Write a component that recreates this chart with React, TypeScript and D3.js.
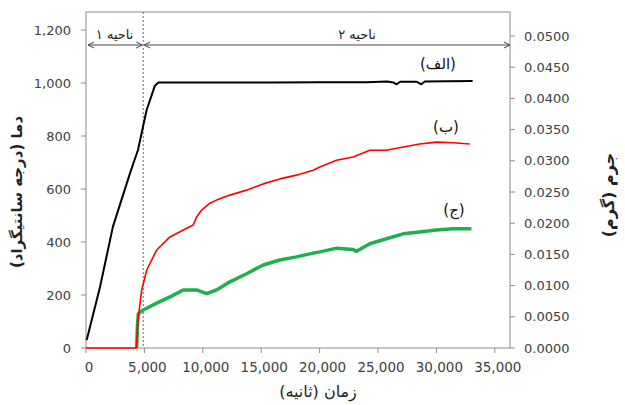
import React from "react";
import * as d3 from "d3";

// ---- data ----
const blackTime = [60, 1200, 2300, 3770, 4450, 5190, 5900, 6200, 8000, 12000, 16000, 20000, 24000, 25800, 26300, 26600, 26900, 28300, 28700, 29000, 31000, 33100];
const blackTemp = [30, 230, 457, 660, 747, 898, 990, 1002, 1002, 1002, 1002, 1003, 1003, 1006, 1002, 995, 1005, 1005, 995, 1006, 1007, 1008];

const redTime = [0, 4300, 4340, 4400, 4480, 4770, 5200, 6050, 7190, 8330, 9180, 9470, 9900, 10610, 11180, 12320, 13750, 15170, 16600, 18020, 19450, 20020, 21450, 22870, 24300, 25720, 27150, 28570, 30000, 31430, 32860];
const redMass = [0, 0, 0.0005, 0.003, 0.005, 0.0093, 0.0125, 0.0157, 0.0178, 0.0189, 0.0197, 0.021, 0.0221, 0.0232, 0.0237, 0.0245, 0.0253, 0.0263, 0.0271, 0.0277, 0.0285, 0.029, 0.0301, 0.0306, 0.0317, 0.0317, 0.0322, 0.0327, 0.033, 0.0329, 0.0327];

const greenTime = [4340, 4400, 4480, 4900, 6050, 7190, 8330, 9470, 10330, 11180, 12320, 13750, 15170, 16600, 18020, 19450, 20020, 21450, 22870, 23160, 24300, 25720, 27150, 28570, 30000, 31430, 33000];
const greenMass = [0, 0.0035, 0.0055, 0.0061, 0.0072, 0.0082, 0.0093, 0.0093, 0.0087, 0.0093, 0.0106, 0.0119, 0.0133, 0.0141, 0.0146, 0.0152, 0.0154, 0.016, 0.0158, 0.0155, 0.0167, 0.0175, 0.0183, 0.0186, 0.0189, 0.0191, 0.0191];

const xTicks = [0, 5000, 10000, 15000, 20000, 25000, 30000, 35000];
const leftTicks = [0, 200, 400, 600, 800, 1000, 1200];
const rightTicks = [0, 0.005, 0.01, 0.015, 0.02, 0.025, 0.03, 0.035, 0.04, 0.045, 0.05];
const zoneBoundary = 4900;
const zoneLabels = ["ناحیه ۱", "ناحیه ۲"];
const seriesLabels = ["(الف)", "(ب)", "(ج)"];
const xTitle = "زمان (ثانیه)";
const leftTitle = "دما (درجه سانتیگراد)";
const rightTitle = "جرم (گرم)";

const W = 625, H = 405;
const L = 86, R = 510, T = 12, B = 348;

export default function App() {
  const x = d3.scaleLinear().domain([0, 36300]).range([L, R]);
  const yL = d3.scaleLinear().domain([0, 1200]).range([B, 30]);
  const yR = d3.scaleLinear().domain([0, 0.05]).range([B, 36]);
  const fmt = d3.format(",");

  const lineL = d3.line<number>().x((_, i) => x(blackTime[i])).y((d) => yL(d));
  const lineRed = d3.line<number>().x((_, i) => x(redTime[i])).y((d) => yR(d));
  const lineGreen = d3.line<number>().x((_, i) => x(greenTime[i])).y((d) => yR(d));

  const axisColor = "#8c8c8c";
  const textColor = "#404040";
  const tickFont = "DejaVu Sans, Verdana, sans-serif";
  const faFont = "DejaVu Sans, Noto Sans, sans-serif";
  const xb = x(zoneBoundary);
  const arrowY = 45;

  const arrowHead = (px: number, dir: number) =>
    `M${px + dir * 6},${arrowY - 3} L${px},${arrowY} L${px + dir * 6},${arrowY + 3}`;

  return (
    <svg width={W} height={H} style={{ position: "absolute", left: 0, top: 0, background: "#fff" }}>
      <rect x={0} y={0} width={W} height={H} fill="#fff" />
      {/* frame */}
      <rect x={L} y={T} width={R - L} height={B - T} fill="none" stroke={axisColor} strokeWidth={1} />

      {/* left ticks */}
      {leftTicks.map((v) => (
        <g key={"l" + v}>
          <line x1={L - 5} x2={L} y1={yL(v)} y2={yL(v)} stroke={axisColor} />
          <text x={71} y={yL(v)} dy="0.35em" textAnchor="end" fontSize={13} fontFamily={tickFont} fill={textColor}>
            {fmt(v)}
          </text>
        </g>
      ))}
      {/* right ticks */}
      {rightTicks.map((v) => (
        <g key={"r" + v}>
          <line x1={R} x2={R + 5} y1={yR(v)} y2={yR(v)} stroke={axisColor} />
          <text x={524} y={yR(v)} dy="0.35em" textAnchor="start" fontSize={13} fontFamily={tickFont} fill={textColor}>
            {v.toFixed(4)}
          </text>
        </g>
      ))}
      {/* x ticks */}
      {xTicks.map((v) => (
        <g key={"x" + v}>
          <line x1={x(v)} x2={x(v)} y1={B} y2={B + 5} stroke={axisColor} />
          <text x={x(v) + 3} y={372} textAnchor="middle" fontSize={13.5} fontFamily={tickFont} fill={textColor}>
            {fmt(v)}
          </text>
        </g>
      ))}

      {/* zone boundary */}
      <line x1={xb} x2={xb} y1={T} y2={B} stroke="#666" strokeWidth={1} strokeDasharray="2,2" />
      {/* zone arrows */}
      <line x1={L + 2} x2={xb - 1} y1={arrowY} y2={arrowY} stroke="#444" strokeWidth={1} />
      <line x1={xb + 1} x2={R} y1={arrowY} y2={arrowY} stroke="#444" strokeWidth={1} />
      <path d={arrowHead(L + 2, 1)} fill="none" stroke="#444" />
      <path d={arrowHead(xb - 1, -1)} fill="none" stroke="#444" />
      <path d={arrowHead(xb + 1, 1)} fill="none" stroke="#444" />
      <path d={arrowHead(R, -1)} fill="none" stroke="#444" />
      <text x={(L + xb) / 2} y={39} textAnchor="middle" fontSize={13} fontFamily={faFont} fill="#222" direction="rtl">
        {zoneLabels[0]}
      </text>
      <text x={357} y={39} textAnchor="middle" fontSize={13} fontFamily={faFont} fill="#222" direction="rtl">
        {zoneLabels[1]}
      </text>

      {/* series */}
      <path d={lineGreen(greenMass) || ""} fill="none" stroke="#1fb04e" strokeWidth={3.5} strokeLinejoin="round" />
      <path d={lineRed(redMass) || ""} fill="none" stroke="#ff0000" strokeWidth={1.6} strokeLinejoin="round" />
      <path d={lineL(blackTemp) || ""} fill="none" stroke="#000" strokeWidth={2} strokeLinejoin="round" />

      {/* series labels */}
      <text x={438} y={69} textAnchor="middle" fontSize={15} fontFamily={faFont} fill="#111" direction="rtl">
        {seriesLabels[0]}
      </text>
      <text x={446} y={132} textAnchor="middle" fontSize={15} fontFamily={faFont} fill="#111" direction="rtl">
        {seriesLabels[1]}
      </text>
      <text x={454} y={215} textAnchor="middle" fontSize={15} fontFamily={faFont} fill="#111" direction="rtl">
        {seriesLabels[2]}
      </text>

      {/* axis titles */}
      <text x={318} y={397} textAnchor="middle" fontSize={16} fontFamily={faFont} fill="#222" direction="rtl">
        {xTitle}
      </text>
      <text transform="translate(22,192) rotate(-90)" textAnchor="middle" fontSize={15} fontWeight="bold" fontFamily={faFont} fill="#222" direction="rtl">
        {leftTitle}
      </text>
      <text transform="translate(614,195) rotate(-90)" textAnchor="middle" fontSize={16} fontWeight="bold" fontFamily={faFont} fill="#222" direction="rtl">
        {rightTitle}
      </text>
    </svg>
  );
}
